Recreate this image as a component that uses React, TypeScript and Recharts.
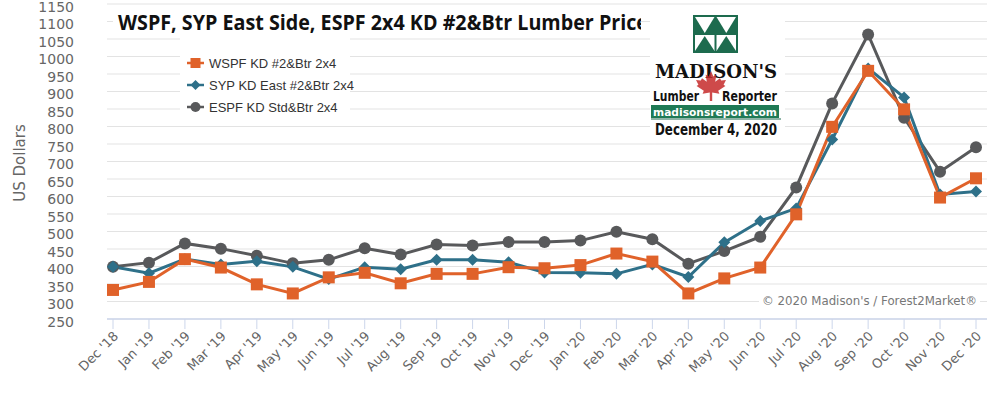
import React from 'react';
import { LineChart, Line, XAxis, YAxis, CartesianGrid } from 'recharts';

const months = [
  "Dec '18", "Jan '19", "Feb '19", "Mar '19", "Apr '19", "May '19", "Jun '19", "Jul '19", "Aug '19",
  "Sep '19", "Oct '19", "Nov '19", "Dec '19", "Jan '20", "Feb '20", "Mar '20", "Apr '20", "May '20",
  "Jun '20", "Jul '20", "Aug '20", "Sep '20", "Oct '20", "Nov '20", "Dec '20",
];

const wspf = [333, 356, 421, 397, 349, 323, 369, 382, 352, 379, 379, 398, 395, 404, 437, 414, 323, 366, 397, 549, 799, 959, 849, 597, 652];
const syp = [399, 381, 421, 406, 415, 399, 364, 398, 392, 419, 419, 412, 383, 382, 379, 406, 370, 469, 530, 566, 763, 966, 883, 606, 614];
const espf = [399, 411, 466, 451, 431, 409, 419, 452, 434, 463, 460, 470, 470, 474, 499, 478, 408, 444, 485, 626, 866, 1063, 825, 671, 741];

const yTicks = [250, 300, 350, 400, 450, 500, 550, 600, 650, 700, 750, 800, 850, 900, 950, 1000, 1050, 1100, 1150];

const seriesNames = {
  wspf: 'WSPF KD #2&Btr 2x4',
  syp: 'SYP KD East #2&Btr 2x4',
  espf: 'ESPF KD Std&Btr 2x4',
};

const titleText = 'WSPF, SYP East Side, ESPF 2x4 KD #2&Btr Lumber Price';
const copyrightText = "\u00a9 2020 Madison's / Forest2Market\u00ae";

const COLORS = { wspf: '#E0622A', syp: '#2E7089', espf: '#58595B' };

const data = months.map((m, i) => ({ month: m, wspf: wspf[i], syp: syp[i], espf: espf[i] }));

const squareDot = (color: string) => (props: any) => {
  const { cx, cy, index } = props;
  if (cx == null || cy == null) return <g key={`s-${index}`} />;
  return <rect key={`s-${index}`} x={cx - 6} y={cy - 6} width={12} height={12} fill={color} />;
};
const circleDot = (color: string) => (props: any) => {
  const { cx, cy, index } = props;
  if (cx == null || cy == null) return <g key={`c-${index}`} />;
  return <circle key={`c-${index}`} cx={cx} cy={cy} r={6} fill={color} />;
};
const diamondDot = (color: string) => (props: any) => {
  const { cx, cy, index } = props;
  if (cx == null || cy == null) return <g key={`d-${index}`} />;
  return (
    <path key={`d-${index}`} d={`M${cx},${cy - 6} L${cx + 6},${cy} L${cx},${cy + 6} L${cx - 6},${cy} Z`} fill={color} />
  );
};

const XTick = (props: any) => {
  const { x, y, payload } = props;
  const ax = x + 6;
  const ay = y + 6;
  return (
    <text
      x={ax}
      y={ay}
      transform={`rotate(-45, ${ax}, ${ay})`}
      textAnchor="end"
      fill="#666666"
      fontSize={13}
      fontFamily="DejaVu Sans"
    >
      {payload.value}
    </text>
  );
};

const YTick = (props: any) => {
  const { y, payload } = props;
  return (
    <text x={74} y={y + 7.5} textAnchor="end" fill="#666666" fontSize={14} fontFamily="DejaVu Sans">
      {payload.value}
    </text>
  );
};

const leafPath =
  'M50,0 L58,18 L68,12 L64,36 L80,24 L84,32 L100,30 L92,46 L98,50 L74,66 L78,76 L54,72 L54,100 L46,100 L46,72 L22,76 L26,66 L2,50 L8,46 L0,30 L16,32 L20,24 L36,36 L32,12 L42,18 Z';

const Overlay = () => {
  const legendRows = [
    { key: 'wspf', y: 63, shape: 'square' },
    { key: 'syp', y: 85, shape: 'diamond' },
    { key: 'espf', y: 107, shape: 'circle' },
  ];
  const green = '#1D6B4E';
  return (
    <svg width={1000} height={393} style={{ position: 'absolute', left: 0, top: 0, pointerEvents: 'none' }}>
      <defs>
        <clipPath id="titleClip">
          <rect x={100} y={0} width={541} height={45} />
        </clipPath>
      </defs>
      {/* Y axis title */}
      <text
        x={25}
        y={163}
        transform="rotate(-90, 25, 163)"
        textAnchor="middle"
        fill="#666666"
        fontSize={15}
        fontFamily="DejaVu Sans"
      >
        US Dollars
      </text>
      {/* chart title */}
      <rect x={113} y={9} width={528} height={27} fill="#ffffff" />
      <g clipPath="url(#titleClip)">
        <text
          x={118}
          y={30}
          fontSize={21}
          fontWeight={700}
          fontFamily="Open Sans"
          fill="#111111"
          textLength={530}
          lengthAdjust="spacingAndGlyphs"
        >
          {titleText}
        </text>
      </g>
      {/* legend */}
      <rect x={180} y={37} width={170} height={83} fill="#ffffff" />
      {legendRows.map((r) => {
        const c = (COLORS as any)[r.key];
        const mx = 195.5;
        return (
          <g key={r.key}>
            <line x1={187} x2={204} y1={r.y} y2={r.y} stroke={c} strokeWidth={2.5} />
            {r.shape === 'square' && <rect x={mx - 5} y={r.y - 5} width={10} height={10} fill={c} />}
            {r.shape === 'diamond' && (
              <path d={`M${mx},${r.y - 5} L${mx + 5},${r.y} L${mx},${r.y + 5} L${mx - 5},${r.y} Z`} fill={c} />
            )}
            {r.shape === 'circle' && <circle cx={mx} cy={r.y} r={5} fill={c} />}
            <text x={209} y={r.y + 4.5} fontSize={13} fontFamily="Liberation Sans" fill="#333333">
              {(seriesNames as any)[r.key]}
            </text>
          </g>
        );
      })}
      {/* logo */}
      <rect x={650} y={8} width={135} height={132} fill="#ffffff" />
      <rect x={693} y={15} width={45} height={38} fill={green} />
      <path d="M695,17 L714.5,17 L704.75,33 Z" fill="#ffffff" />
      <path d="M716.5,17 L736,17 L726.25,33 Z" fill="#ffffff" />
      <rect x={695} y={35} width={19.5} height={16} fill="#ffffff" />
      <rect x={716.5} y={35} width={19.5} height={16} fill="#ffffff" />
      <path d="M695,51 L714.5,51 L704.75,36 Z" fill={green} />
      <path d="M716.5,51 L736,51 L726.25,36 Z" fill={green} />
      <text
        x={655}
        y={78}
        fontSize={18}
        fontWeight={700}
        fontFamily="DejaVu Serif"
        fill="#111111"
        textLength={122}
        lengthAdjust="spacingAndGlyphs"
      >
        MADISON'S
      </text>
      <g transform="translate(696,71) scale(0.3)" opacity={0.85}>
        <path d={leafPath} fill="#C62A2A" />
      </g>
      <text
        x={653}
        y={101}
        fontSize={14}
        fontWeight={700}
        fontFamily="DejaVu Sans"
        fill="#111111"
        textLength={46}
        lengthAdjust="spacingAndGlyphs"
      >
        Lumber
      </text>
      <text
        x={722}
        y={101}
        fontSize={14}
        fontWeight={700}
        fontFamily="DejaVu Sans"
        fill="#111111"
        textLength={55}
        lengthAdjust="spacingAndGlyphs"
      >
        Reporter
      </text>
      <rect x={651} y={105} width={128} height={13} fill="#1F7A55" />
      <line x1={651} x2={781} y1={119} y2={119} stroke={green} strokeWidth={1} />
      <text
        x={653}
        y={116}
        fontSize={11}
        fontWeight={700}
        fontFamily="DejaVu Sans"
        fill="#ffffff"
        textLength={124}
        lengthAdjust="spacingAndGlyphs"
      >
        madisonsreport.com
      </text>
      <text
        x={655}
        y={134.5}
        fontSize={15}
        fontWeight={700}
        fontFamily="DejaVu Sans"
        fill="#111111"
        textLength={122}
        lengthAdjust="spacingAndGlyphs"
      >
        December 4, 2020
      </text>
      {/* copyright */}
      <rect x={759} y={292} width={221} height={17} fill="#ffffff" />
      <text
        x={762}
        y={305}
        fontSize={12.5}
        fontFamily="DejaVu Sans"
        fill="#777777"
        textLength={215}
        lengthAdjust="spacingAndGlyphs"
      >
        {copyrightText}
      </text>
    </svg>
  );
};

export default function App() {
  return (
    <div style={{ position: 'absolute', left: 0, top: 0, width: 1000, height: 393, background: '#ffffff' }}>
      <LineChart width={1000} height={393} data={data} margin={{ top: 4, right: 13, bottom: 0, left: 0 }}>
        <CartesianGrid vertical={false} stroke="#e3e3e3" strokeWidth={1} />
        <XAxis
          dataKey="month"
          interval={0}
          height={74}
          padding={{ left: 6, right: 11 }}
          axisLine={{ stroke: '#ccd6eb', strokeWidth: 1.5 }}
          tickLine={{ stroke: '#ccd6eb' }}
          tickSize={10}
          tick={(p: any) => <XTick {...p} />}
        />
        <YAxis
          width={107}
          domain={[250, 1150]}
          ticks={yTicks}
          interval={0}
          axisLine={false}
          tickLine={false}
          tick={(p: any) => <YTick {...p} />}
        />
        <Line
          type="linear"
          dataKey="espf"
          name={seriesNames.espf}
          stroke={COLORS.espf}
          strokeWidth={3}
          dot={circleDot(COLORS.espf)}
          isAnimationActive={false}
        />
        <Line
          type="linear"
          dataKey="syp"
          name={seriesNames.syp}
          stroke={COLORS.syp}
          strokeWidth={3}
          dot={diamondDot(COLORS.syp)}
          isAnimationActive={false}
        />
        <Line
          type="linear"
          dataKey="wspf"
          name={seriesNames.wspf}
          stroke={COLORS.wspf}
          strokeWidth={3}
          dot={squareDot(COLORS.wspf)}
          isAnimationActive={false}
        />
      </LineChart>
      <Overlay />
    </div>
  );
}
